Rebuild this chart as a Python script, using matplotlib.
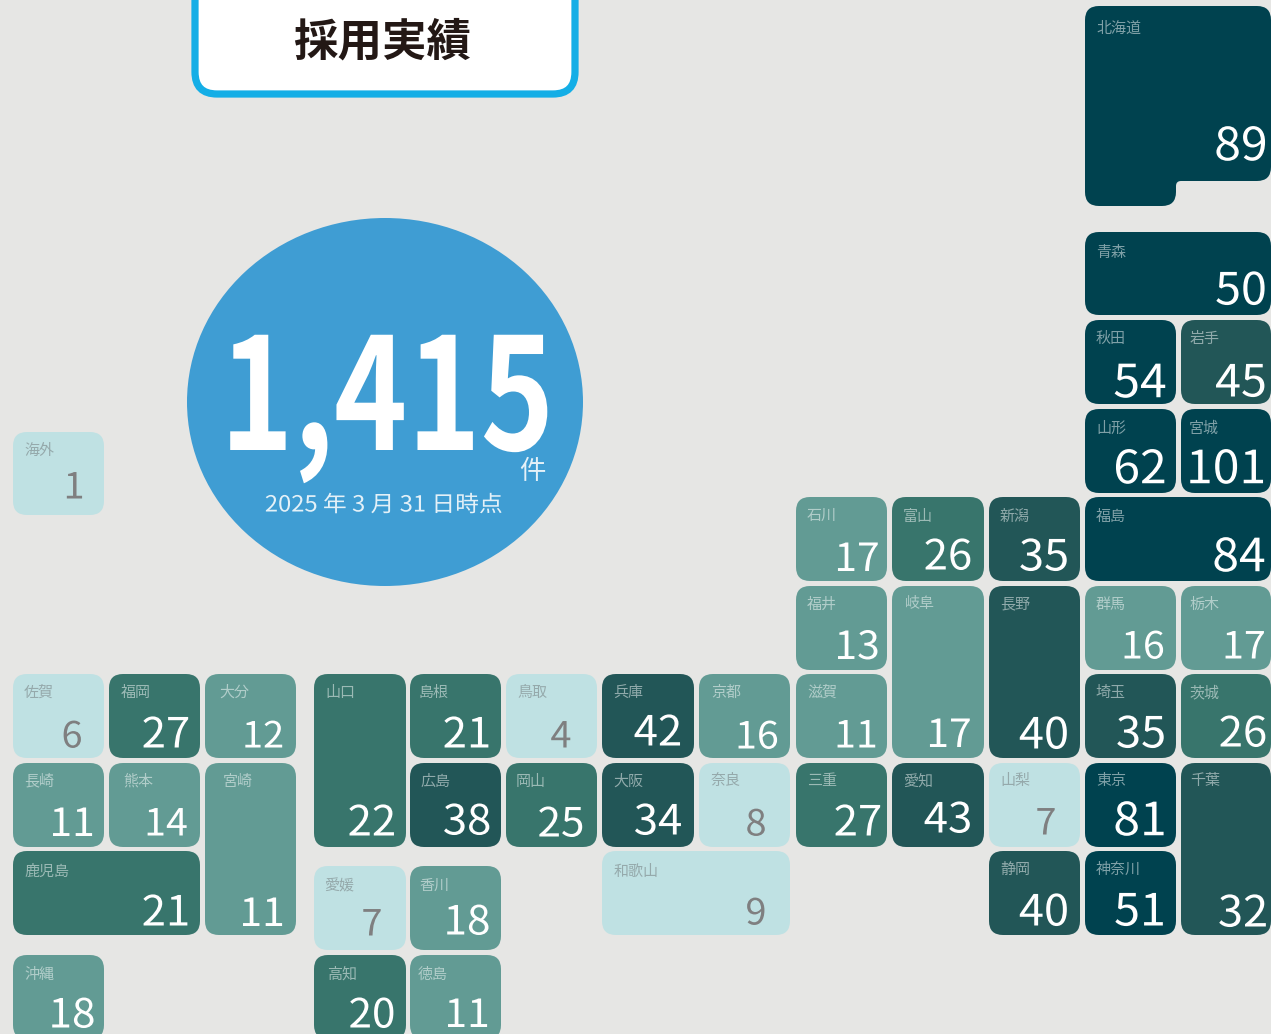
import matplotlib
matplotlib.use("Agg")
import matplotlib.pyplot as plt
from matplotlib.patches import PathPatch, Ellipse
from matplotlib.path import Path
from matplotlib.patheffects import AbstractPathEffect
from matplotlib.transforms import Affine2D

plt.rcParams['font.family'] = ['Noto Sans CJK JP', 'DejaVu Sans']

# ---------- data ----------
TITLE = "採用実績"
TOTAL = "1,415"
UNIT = "件"
AS_OF = "2025 年 3 月 31 日時点"

NAMES = ["北海道","青森","秋田","岩手","山形","宮城","石川","富山","新潟","福島",
         "福井","岐阜","長野","群馬","栃木","佐賀","福岡","大分","山口","島根",
         "鳥取","兵庫","京都","滋賀","埼玉","茨城","長崎","熊本","宮崎","広島",
         "岡山","大阪","奈良","三重","愛知","山梨","東京","千葉","鹿児島","和歌山",
         "静岡","神奈川","愛媛","香川","沖縄","高知","徳島","海外"]
VALUES = [89,50,54,45,62,101,17,26,35,84,
          13,17,40,16,17,6,27,12,22,21,
          4,42,16,11,35,26,11,14,11,38,
          25,34,8,27,43,7,81,32,21,9,
          40,51,7,18,18,20,11,1]

# ---------- layout ----------
COL_L = [13,109,205,314,410,506,602,699,796,892,989,1085,1181]
COL_R = [104,200,296,406,501,597,694,790,887,984,1080,1176,1271]
ROW_T = [6,232,320,409,497,586,674,763,851,866,955,432]
ROW_B = [206,315,404,493,581,670,758,847,935,950,1039,515]

SPANS = [(11,12,0,0),(11,12,1,1),(11,11,2,2),(12,12,2,2),(11,11,3,3),(12,12,3,3),
         (8,8,4,4),(9,9,4,4),(10,10,4,4),(11,12,4,4),
         (8,8,5,5),(9,9,5,6),(10,10,5,6),(11,11,5,5),(12,12,5,5),
         (0,0,6,6),(1,1,6,6),(2,2,6,6),(3,3,6,7),(4,4,6,6),
         (5,5,6,6),(6,6,6,6),(7,7,6,6),(8,8,6,6),(11,11,6,6),(12,12,6,6),
         (0,0,7,7),(1,1,7,7),(2,2,7,8),(4,4,7,7),
         (5,5,7,7),(6,6,7,7),(7,7,7,7),(8,8,7,7),(9,9,7,7),(10,10,7,7),(11,11,7,7),(12,12,7,8),
         (0,1,8,8),(6,7,8,8),(10,10,8,8),(11,11,8,8),
         (3,3,9,9),(4,4,9,9),(0,0,10,10),(3,3,10,10),(4,4,10,10),(0,0,11,11)]

VALUE_CX = [1241,1241,1140,1241,1140,1226,857,948,1044,1239,
            857,949,1044,1143,1244,72,166,263,372,467,
            561,658,757,856,1141,1243,72,166,262,467,
            561,658,756,858,948,1046,1140,1243,166,756,
            1044,1140,372,467,72,372,467,74]
VALUE_CY = [141.5,286.5,378.5,378.5,464.5,464.5,555.5,553.5,553.5,552.5,
            643.5,731.5,731.5,643.5,643.5,733.5,731.5,733.5,819.5,731.5,
            733.5,729.5,733.5,732.5,730.5,730.5,820.5,820.5,910.5,818.5,
            820.5,818.5,821.5,819.5,816.5,820.5,816.5,909.5,909.5,910.5,
            908.5,907.5,921.5,918.5,1011.5,1011.5,1011.5,484.5]
VALUE_PT = [33,32,33,32,33,33,28,30,31,33,
            28,28,31,27,27,26,30,26,30,30,
            26,30,27,27,31,30,28,27,28,30,
            29,30,26,30,30,26,33,31,30,26,
            31,32,26,29,29,29,28,26]
LABEL_DX = {"福岡":12,"大分":14,"熊本":14,"宮崎":18,"岐阜":13,"島根":9,"山口":11,
            "愛媛":10,"香川":9,"徳島":8,"高知":13,"岡山":10,"京都":12,"奈良":12,
            "岩手":9,"宮城":8,"栃木":8,"千葉":9,"茨城":8,"和歌山":12}
LABEL_DY = {"北海道":23,"青森":20.5,"鹿児島":21,"和歌山":21,"岐阜":18,"秋田":19,"岩手":19,
            "山形":20,"宮城":20,"富山":20,"新潟":20,"福島":20,"愛媛":20.5,"香川":19.5,
            "沖縄":19.5,"高知":19.5,"徳島":19.5}

BINS = [(10,"#bfe1e3"),(20,"#629b94"),(30,"#38756c"),(50,"#225657"),(10**6,"#00424f")]

BG = "#e6e6e4"

class HStretch(AbstractPathEffect):
    """Draws a text's glyphs scaled horizontally about a display-space x."""
    def __init__(self, sx, x_disp):
        super().__init__()
        self.sx, self.x_disp = sx, x_disp
    def draw_path(self, renderer, gc, tpath, affine, rgbFace=None):
        extra = Affine2D().translate(-self.x_disp,0).scale(self.sx,1).translate(self.x_disp,0)
        renderer.draw_path(gc, tpath, affine + extra, rgbFace)

def tile_colour(v):
    for limit, colour in BINS:
        if v < limit:
            return colour

def rounded(verts, radii):
    """Closed path through verts with each corner rounded by its radius."""
    n = len(verts)
    codes, pts = [], []
    for i in range(n):
        (x0,y0),(x1,y1),(x2,y2) = verts[i-1],verts[i],verts[(i+1)%n]
        r = radii[i]
        d1 = max(abs(x1-x0),abs(y1-y0)); d2 = max(abs(x2-x1),abs(y2-y1))
        a = (x1+(x0-x1)*r/d1, y1+(y0-y1)*r/d1)
        b = (x1+(x2-x1)*r/d2, y1+(y2-y1)*r/d2)
        pts += [a,(x1,y1),b]
        codes += [Path.MOVETO if i==0 else Path.LINETO, Path.CURVE3, Path.CURVE3]
    pts.append(pts[0]); codes.append(Path.CLOSEPOLY)
    return Path(pts,codes)

W,H = 1271,1034
fig = plt.figure(figsize=(W/100,H/100),dpi=100,facecolor=BG)
ax = fig.add_axes([0,0,1,1])
ax.set_xlim(0,W); ax.set_ylim(H,0); ax.axis("off")

for name,v,(c0,c1,r0,r1),cx,cy,pt in zip(NAMES,VALUES,SPANS,VALUE_CX,VALUE_CY,VALUE_PT):
    x0,x1,y0,y1 = COL_L[c0],COL_R[c1],ROW_T[r0],ROW_B[r1]
    col = tile_colour(v)
    if name=="北海道":
        xm = COL_R[11]; ym = 181
        verts = [(x0,y0),(x1,y0),(x1,ym),(xm,ym),(xm,y1),(x0,y1)]
        radii = [14,14,14,5,14,14]
    else:
        verts = [(x0,y0),(x1,y0),(x1,y1),(x0,y1)]
        radii = [14]*4
    ax.add_patch(PathPatch(rounded(verts,radii),fc=col,ec="none"))
    light = v<10
    ax.text(x0+LABEL_DX.get(name,11),y0+LABEL_DY.get(name,18.5),name,fontsize=10.8,ha="left",va="center",
            color="#95a9ab" if light else "white",alpha=1 if light else 0.5)
    ax.text(cx,cy,str(v),fontsize=pt,ha="center",va="center_baseline",
            color="#7f7f80" if light else "white",
            path_effects=[HStretch(1.05,ax.transData.transform((cx,0))[0])])

# title box
ax.add_patch(PathPatch(rounded([(195,-30),(575,-30),(575,94),(195,94)],[22]*4),
                       fc="white",ec="#14aee6",lw=5.2))
ax.text(382,38,TITLE,fontsize=32,fontweight="bold",ha="center",va="center_baseline",color="#231815")

# total circle
ax.add_patch(Ellipse((385,402),396,368,fc="#3f9dd3",ec="none"))
x_total = ax.transData.transform((387,0))[0]
ax.text(387,388,TOTAL,fontsize=112,fontweight="bold",ha="center",va="center_baseline",color="white",
        path_effects=[HStretch(0.80,x_total)])
ax.text(532,471.5,UNIT,fontsize=19,ha="center",va="center",color="#e4f1f8")
x_date = ax.transData.transform((384,0))[0]
ax.text(384,505,AS_OF,fontsize=16,ha="center",va="center",color="#e4f1f8",
        path_effects=[HStretch(1.07,x_date)])

fig.savefig("out.png",dpi=100,facecolor=BG)
